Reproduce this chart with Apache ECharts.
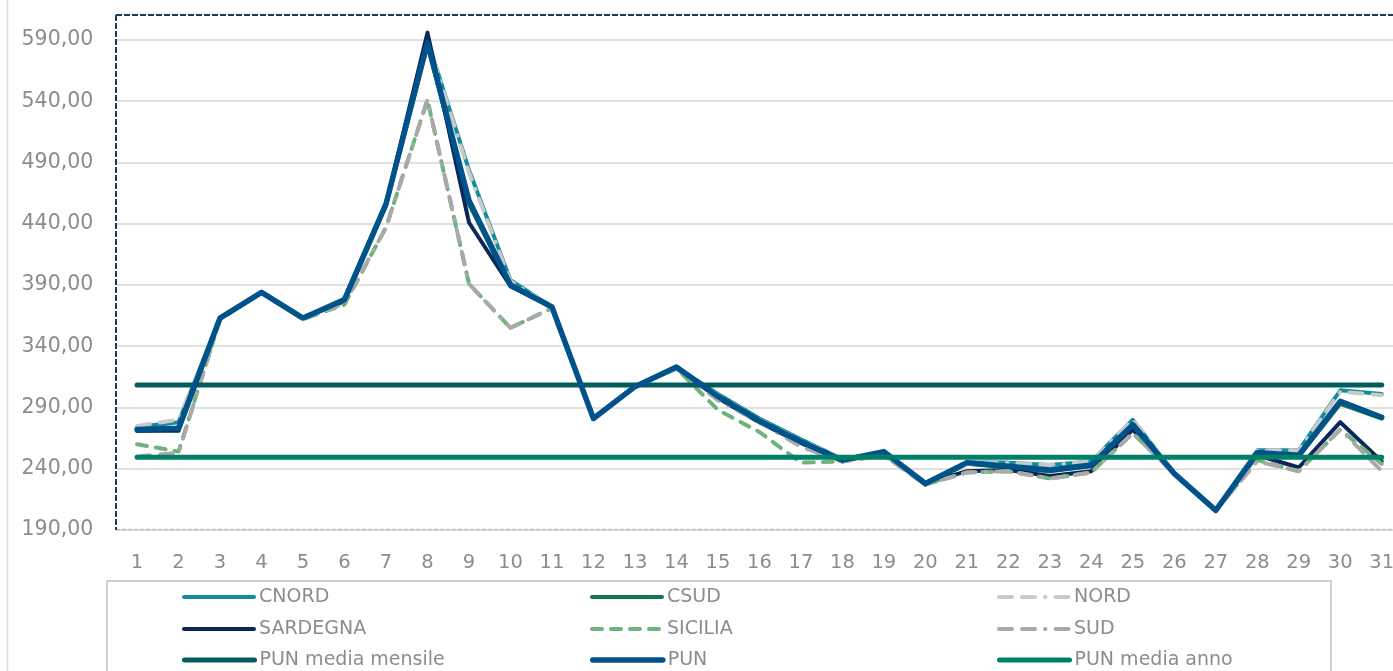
<!DOCTYPE html>
<html>
<head>
<meta charset="utf-8">
<script src="https://cdn.jsdelivr.net/npm/echarts@6/dist/echarts.min.js"></script>
<style>
html,body{margin:0;padding:0;background:#fff;}
#c{width:1393px;height:671px;}
</style>
</head>
<body>
<div id="c"></div>
<script>
const days = ['1','2','3','4','5','6','7','8','9','10','11','12','13','14','15','16','17','18','19','20','21','22','23','24','25','26','27','28','29','30','31'];
const yTicks = [190, 240, 290, 340, 390, 440, 490, 540, 590];

const CNORD    = [274, 278, 363, 384, 363, 379, 457, 590, 484, 394, 372, 281, 307, 323, 301, 281, 264, 248, 253, 228, 245, 245, 243, 246, 280, 236, 206, 255, 255, 304, 301];
const CSUD     = [271, 272, 363, 384, 363, 377, 455, 586, 456, 389, 372, 281, 307, 322, 298, 278, 261, 246, 253, 227, 244, 241, 238, 242, 275, 236, 206, 252, 250, 293, 281];
const NORD     = [275, 280, 363, 384, 363, 379, 457, 590, 482, 393, 372, 281, 307, 323, 300, 280, 263, 248, 253, 228, 244, 245, 243, 246, 280, 236, 206, 255, 255, 303, 300];
const SARDEGNA = [271, 271, 363, 384, 363, 377, 456, 596, 441, 389, 372, 281, 307, 323, 298, 278, 261, 247, 253, 228, 238, 239, 234, 238, 272, 236, 206, 251, 241, 278, 246];
const SICILIA  = [260, 254, 362, 384, 362, 374, 437, 541, 391, 355, 371, 281, 307, 322, 288, 270, 245, 246, 251, 227, 237, 238, 232, 237, 269, 236, 206, 247, 238, 272, 244];
const SUD      = [250, 253, 362, 384, 362, 375, 437, 541, 391, 355, 371, 281, 307, 322, 296, 278, 258, 246, 251, 227, 237, 238, 232, 237, 269, 236, 206, 246, 238, 272, 238];
const PUN      = [272, 273, 363, 384, 363, 378, 456, 588, 459, 390, 372, 281, 307, 323, 299, 279, 262, 247, 254, 228, 245, 242, 239, 243, 276, 236, 206, 253, 251, 295, 282];
const PUN_MENSILE = [308.4, 308.4, 308.4, 308.4, 308.4, 308.4, 308.4, 308.4, 308.4, 308.4, 308.4, 308.4, 308.4, 308.4, 308.4, 308.4, 308.4, 308.4, 308.4, 308.4, 308.4, 308.4, 308.4, 308.4, 308.4, 308.4, 308.4, 308.4, 308.4, 308.4, 308.4];
const PUN_ANNO    = [249.3, 249.3, 249.3, 249.3, 249.3, 249.3, 249.3, 249.3, 249.3, 249.3, 249.3, 249.3, 249.3, 249.3, 249.3, 249.3, 249.3, 249.3, 249.3, 249.3, 249.3, 249.3, 249.3, 249.3, 249.3, 249.3, 249.3, 249.3, 249.3, 249.3, 249.3];

const legendRows = [
  ['CNORD', 'CSUD', 'NORD'],
  ['SARDEGNA', 'SICILIA', 'SUD'],
  ['PUN media mensile', 'PUN', 'PUN media anno']
];

const FONT = 'DejaVu Sans';
const TXT = '#8c8c8c';

function ser(name, data, color, width, type) {
  return {
    name: name, type: 'line', data: data, symbol: 'none', showSymbol: false,
    animation: false,
    lineStyle: { color: color, width: width, type: type || 'solid', cap: 'round', join: 'round' },
    itemStyle: { color: color },
    emphasis: { disabled: true }
  };
}
const longDashDot = [13, 10, 13, 10, 0.5, 10];

const series = [
  ser('CNORD', CNORD, '#138D9B', 4),
  ser('CSUD', CSUD, '#17754A', 4),
  ser('NORD', NORD, '#C9C9C9', 4, longDashDot),
  ser('SARDEGNA', SARDEGNA, '#0D2659', 4),
  ser('SICILIA', SICILIA, '#6DB47C', 4, [10, 9]),
  ser('SUD', SUD, '#A9A9A9', 4, longDashDot),
  ser('PUN media mensile', PUN_MENSILE, '#035B5E', 5),
  ser('PUN', PUN, '#00528A', 5.5),
  ser('PUN media anno', PUN_ANNO, '#008066', 5)
];

const colLeft = [182, 590, 997];
const rowTop = [587.5, 619.5, 650.5];
const legends = [];
legendRows.forEach((row, r) => row.forEach((name, c) => {
  legends.push({
    orient: 'horizontal', left: colLeft[c], top: rowTop[r], padding: 0,
    itemWidth: 70, itemHeight: 19,
    selectedMode: false,
    itemStyle: { color: 'rgba(0,0,0,0)', borderWidth: 0, opacity: 0 },
    lineStyle: { width: 'inherit', type: 'inherit', cap: 'inherit', opacity: 1 },
    textStyle: { fontFamily: FONT, fontSize: 19, color: TXT },
    data: [name]
  });
}));

const chart = echarts.init(document.getElementById('c'), null, { renderer: 'canvas' });
chart.setOption({
  animation: false,
  backgroundColor: '#ffffff',
  grid: { left: 116.3, right: -9.5, top: 15, bottom: 141, containLabel: false, outerBoundsMode: 'none' },
  xAxis: {
    type: 'category', data: days, boundaryGap: true,
    axisLine: { show: false }, axisTick: { show: false },
    axisLabel: { fontFamily: FONT, fontSize: 19.5, color: TXT, margin: 23, interval: 0 }
  },
  yAxis: {
    type: 'value', min: yTicks[0], max: 610.4, interval: 50,
    axisLine: { show: false }, axisTick: { show: false },
    axisLabel: { fontFamily: FONT, fontSize: 20.5, color: TXT, margin: 23, showMaxLabel: false,
      formatter: v => v.toFixed(2).replace('.', ',') },
    splitLine: { showMaxLine: false, lineStyle: { color: '#e0e0e0', width: 2 } }
  },
  legend: legends,
  graphic: [
    { type: 'line', shape: { x1: 7.5, y1: 0, x2: 7.5, y2: 671 }, style: { stroke: '#dcdcdc', lineWidth: 1.5 }, silent: true },
    { type: 'rect', shape: { x: 107, y: 581, width: 1224, height: 120 }, style: { fill: 'none', stroke: '#c4c4c4', lineWidth: 1.5 }, silent: true, z: -1 },
    { type: 'line', shape: { x1: 116, y1: 529.5, x2: 1393, y2: 529.5 }, style: { stroke: '#b9bec6', lineWidth: 1.5, lineDash: [4, 2] }, silent: true, z: 1 },
    { type: 'line', shape: { x1: 116, y1: 15, x2: 1393, y2: 15 }, style: { stroke: '#1b3a5c', lineWidth: 2, lineDash: [6, 2] }, silent: true, z: 1 },
    { type: 'line', shape: { x1: 116, y1: 15, x2: 116, y2: 530 }, style: { stroke: '#1b3a5c', lineWidth: 2, lineDash: [6, 2] }, silent: true, z: 1 }
  ],
  series: series
});
</script>
</body>
</html>
